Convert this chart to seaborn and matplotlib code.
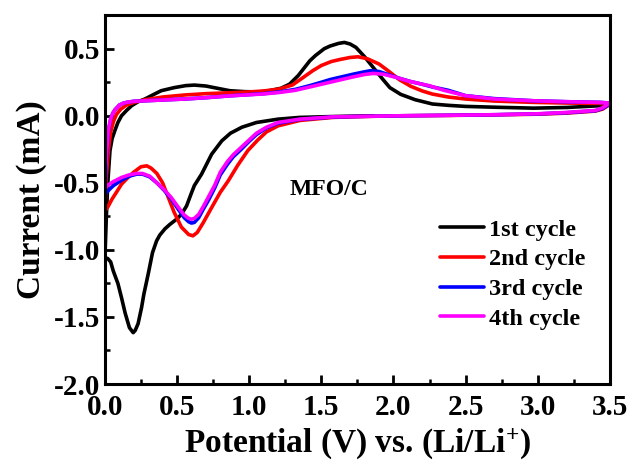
import matplotlib
matplotlib.use("Agg")
import matplotlib.pyplot as plt
import seaborn as sns
import pandas as pd
from matplotlib.ticker import MultipleLocator, FormatStrFormatter

# ---------------- data ----------------
cycles = ["1st cycle", "2nd cycle", "3rd cycle", "4th cycle"]
colors = ["#000000", "#ff0000", "#0000ff", "#ff00ff"]

# 1st cycle: cathodic from OCV, then anodic to 3.5 V
c1_v = [1.86, 1.6, 1.35, 1.2, 1.05, 0.95, 0.87, 0.81, 0.74, 0.67, 0.62, 0.60, 0.566, 0.53, 0.497, 0.45, 0.416, 0.38, 0.358, 0.33,
        0.30, 0.27, 0.254, 0.23, 0.21, 0.196, 0.17, 0.14, 0.115, 0.09, 0.058, 0.04, 0.02, 0.0,
        0.0, 0.01, 0.02, 0.035, 0.05, 0.069, 0.09, 0.115, 0.15, 0.185, 0.23, 0.277, 0.34, 0.39, 0.48, 0.56, 0.62, 0.70,
        0.78, 0.866, 0.97, 1.07, 1.14, 1.22, 1.28, 1.34, 1.42, 1.46, 1.52, 1.56, 1.62, 1.66, 1.70, 1.74, 1.80, 1.86,
        1.92, 1.975, 2.05, 2.15, 2.27, 2.38, 2.5, 2.7, 2.97, 3.2, 3.43, 3.5]
c1_i = [0.0, -0.005, -0.012, -0.025, -0.05, -0.085, -0.13, -0.187, -0.286, -0.435, -0.52, -0.575, -0.672, -0.735, -0.771, -0.81, -0.843, -0.89, -0.933, -1.02,
        -1.18, -1.33, -1.43, -1.55, -1.60, -1.617, -1.58, -1.47, -1.356, -1.25, -1.157, -1.09, -1.065, -1.057,
        -1.057, -0.75, -0.5, -0.26, -0.17, -0.11, -0.05, 0.0, 0.04, 0.075, 0.105, 0.125, 0.16, 0.187, 0.21, 0.225, 0.229, 0.222,
        0.205, 0.187, 0.18, 0.178, 0.187, 0.205, 0.236, 0.30, 0.41, 0.45, 0.50, 0.52, 0.54, 0.547, 0.535, 0.51, 0.44, 0.36,
        0.28, 0.21, 0.16, 0.12, 0.088, 0.078, 0.07, 0.064, 0.057, 0.062, 0.075, 0.085]

# 2nd cycle
c2_v = [3.5, 3.45, 3.4, 3.2, 3.0, 2.7, 2.4, 2.04, 1.8, 1.58, 1.35, 1.2, 1.12, 1.06, 0.99, 0.92, 0.855, 0.80, 0.74, 0.68,
        0.64, 0.61, 0.58, 0.53, 0.48, 0.44, 0.40, 0.36, 0.32, 0.29, 0.25, 0.20, 0.16, 0.115, 0.08, 0.05, 0.02, 0.0,
        0.0, 0.01, 0.025, 0.04, 0.06, 0.08, 0.11, 0.15, 0.2, 0.28, 0.4, 0.55, 0.7, 0.87, 1.0, 1.1, 1.21, 1.3, 1.38, 1.44,
        1.5, 1.57, 1.63, 1.7, 1.755, 1.82, 1.9, 1.97, 2.04, 2.12, 2.2, 2.27, 2.38, 2.5, 2.7, 2.97, 3.2, 3.43, 3.5]
c2_i = [0.085, 0.05, 0.035, 0.02, 0.012, 0.007, 0.003, 0.0, -0.005, -0.012, -0.035, -0.075, -0.12, -0.18, -0.26, -0.37, -0.485, -0.57, -0.684, -0.80,
        -0.87, -0.895, -0.885, -0.83, -0.72, -0.61, -0.50, -0.43, -0.39, -0.373, -0.38, -0.42, -0.46, -0.51, -0.57, -0.62, -0.68, -0.71,
        -0.71, -0.45, -0.25, -0.12, -0.04, 0.01, 0.05, 0.08, 0.10, 0.12, 0.14, 0.155, 0.165, 0.172, 0.178, 0.185, 0.20, 0.23, 0.29, 0.336,
        0.375, 0.405, 0.42, 0.435, 0.44, 0.425, 0.386, 0.33, 0.27, 0.22, 0.185, 0.162, 0.14, 0.125, 0.11, 0.10, 0.095, 0.092, 0.085]

# 3rd cycle
c3_v = [3.5, 3.45, 3.4, 3.2, 3.0, 2.7, 2.4, 2.04, 1.8, 1.58, 1.35, 1.2, 1.12, 1.05, 1.0, 0.94, 0.89, 0.85, 0.80, 0.76,
        0.72, 0.68, 0.65, 0.62, 0.60, 0.58, 0.55, 0.51, 0.46, 0.41, 0.36, 0.31, 0.26, 0.22, 0.17, 0.115, 0.06, 0.03, 0.01, 0.0,
        0.0, 0.01, 0.023, 0.04, 0.055, 0.07, 0.1, 0.13, 0.16, 0.2, 0.28, 0.4, 0.55, 0.7, 0.866, 0.97, 1.1, 1.21, 1.32, 1.42,
        1.5, 1.56, 1.64, 1.72, 1.8, 1.84, 1.9, 1.97, 2.04, 2.12, 2.2, 2.27, 2.38, 2.5, 2.7, 2.97, 3.2, 3.43, 3.5]
c3_i = [0.09, 0.055, 0.038, 0.023, 0.014, 0.008, 0.004, 0.0, -0.004, -0.009, -0.027, -0.055, -0.09, -0.14, -0.19, -0.255, -0.305, -0.36, -0.44, -0.54,
        -0.625, -0.70, -0.76, -0.795, -0.80, -0.79, -0.76, -0.70, -0.62, -0.555, -0.50, -0.455, -0.435, -0.435, -0.45, -0.48, -0.52, -0.55, -0.575, -0.585,
        -0.585, -0.33, -0.12, -0.025, 0.02, 0.045, 0.08, 0.095, 0.102, 0.108, 0.112, 0.118, 0.125, 0.135, 0.149, 0.156, 0.165, 0.178, 0.197, 0.225,
        0.25, 0.27, 0.29, 0.31, 0.328, 0.336, 0.33, 0.305, 0.28, 0.255, 0.235, 0.215, 0.19, 0.15, 0.128, 0.112, 0.105, 0.10, 0.095]

# 4th cycle
c4_v = [3.5, 3.45, 3.4, 3.2, 3.0, 2.7, 2.4, 2.04, 1.8, 1.58, 1.35, 1.2, 1.12, 1.05, 1.0, 0.94, 0.89, 0.85, 0.80, 0.76,
        0.72, 0.68, 0.65, 0.62, 0.60, 0.58, 0.55, 0.51, 0.46, 0.41, 0.36, 0.31, 0.26, 0.22, 0.17, 0.115, 0.06, 0.03, 0.01, 0.0,
        0.0, 0.01, 0.023, 0.04, 0.055, 0.07, 0.1, 0.13, 0.16, 0.2, 0.28, 0.4, 0.55, 0.7, 0.866, 0.97, 1.1, 1.21, 1.32, 1.42,
        1.5, 1.56, 1.64, 1.72, 1.8, 1.86, 1.93, 2.02, 2.1, 2.18, 2.25, 2.35, 2.5, 2.7, 2.97, 3.2, 3.43, 3.5]
c4_i = [0.095, 0.06, 0.04, 0.025, 0.015, 0.008, 0.004, 0.0, -0.004, -0.008, -0.025, -0.05, -0.085, -0.13, -0.18, -0.24, -0.29, -0.34, -0.42, -0.52,
        -0.60, -0.68, -0.735, -0.765, -0.771, -0.765, -0.74, -0.684, -0.61, -0.55, -0.50, -0.45, -0.43, -0.43, -0.44, -0.46, -0.49, -0.51, -0.53, -0.54,
        -0.54, -0.30, -0.11, -0.02, 0.02, 0.045, 0.08, 0.095, 0.102, 0.108, 0.112, 0.118, 0.125, 0.135, 0.149, 0.155, 0.163, 0.174, 0.19, 0.215,
        0.235, 0.25, 0.27, 0.29, 0.308, 0.316, 0.31, 0.286, 0.26, 0.24, 0.224, 0.19, 0.15, 0.125, 0.112, 0.105, 0.10, 0.095]

x_ticks = [0.0, 0.5, 1.0, 1.5, 2.0, 2.5, 3.0, 3.5]
y_ticks = [-2.0, -1.5, -1.0, -0.5, 0.0, 0.5]

# ---------------- build table ----------------
frames = []
for name, v, i in zip(cycles, [c1_v, c2_v, c3_v, c4_v], [c1_i, c2_i, c3_i, c4_i]):
    frames.append(pd.DataFrame({"potential": v, "current": i, "cycle": name}))
df = pd.concat(frames, ignore_index=True)

# ---------------- style ----------------
sns.set_theme(style="white")
plt.rcParams["font.family"] = ["Liberation Serif", "DejaVu Serif"]
plt.rcParams["font.weight"] = "bold"
plt.rcParams["axes.unicode_minus"] = False
plt.rcParams["mathtext.fontset"] = "custom"
plt.rcParams["mathtext.rm"] = "Liberation Serif:bold"
plt.rcParams["mathtext.default"] = "rm"
for key in ["text.color", "axes.labelcolor", "xtick.color", "ytick.color", "axes.edgecolor"]:
    plt.rcParams[key] = "black"

fig = plt.figure(figsize=(6.32, 4.61), dpi=100)
ax = fig.add_axes([0.166, 0.167, 0.799, 0.80])

for name, col in zip(cycles, colors):
    sub = df[df["cycle"] == name]
    sns.lineplot(data=sub, x="potential", y="current", sort=False, estimator=None,
                 color=col, linewidth=2.6, ax=ax, label=name)

ax.set_xlim(0.0, 3.5)
ax.set_ylim(-2.0, 0.75)
ax.set_xticks(x_ticks)
ax.set_yticks(y_ticks)
ax.xaxis.set_minor_locator(MultipleLocator(0.25))
ax.yaxis.set_minor_locator(MultipleLocator(0.25))
ax.xaxis.set_major_formatter(FormatStrFormatter("%.1f"))
ax.yaxis.set_major_formatter(FormatStrFormatter("%.1f"))
ax.tick_params(axis="both", which="major", direction="in", length=6.5, width=2,
               labelsize=21, bottom=True, left=True, top=False, right=False)
ax.tick_params(axis="x", which="major", pad=7)
ax.tick_params(axis="y", which="major", pad=3)
ax.tick_params(axis="both", which="minor", direction="in", length=3.5, width=1.8,
               bottom=True, left=True, top=False, right=False)
for lab in ax.get_xticklabels() + ax.get_yticklabels():
    lab.set_fontweight("bold")
for sp in ax.spines.values():
    sp.set_linewidth(2.2)
    sp.set_color("black")

ax.set_xlabel(r"Potential (V) vs. (Li/Li$^{+}$)", fontsize=24, fontweight="bold", labelpad=4)
ax.set_ylabel("Current (mA)", fontsize=24, fontweight="bold", labelpad=5)

ax.text(1.28, -0.55, "MFO/C", fontsize=17, fontweight="bold", va="center", ha="left")

leg = ax.legend(loc="upper left", bbox_to_anchor=(0.645, 0.475), frameon=False,
                prop={"size": 17.5, "weight": "bold"}, handlelength=1.8,
                handletextpad=0.2, labelspacing=0.32, borderaxespad=0)
for h in leg.get_lines():
    h.set_linewidth(2.6)

fig.savefig("out.png", dpi=100)
